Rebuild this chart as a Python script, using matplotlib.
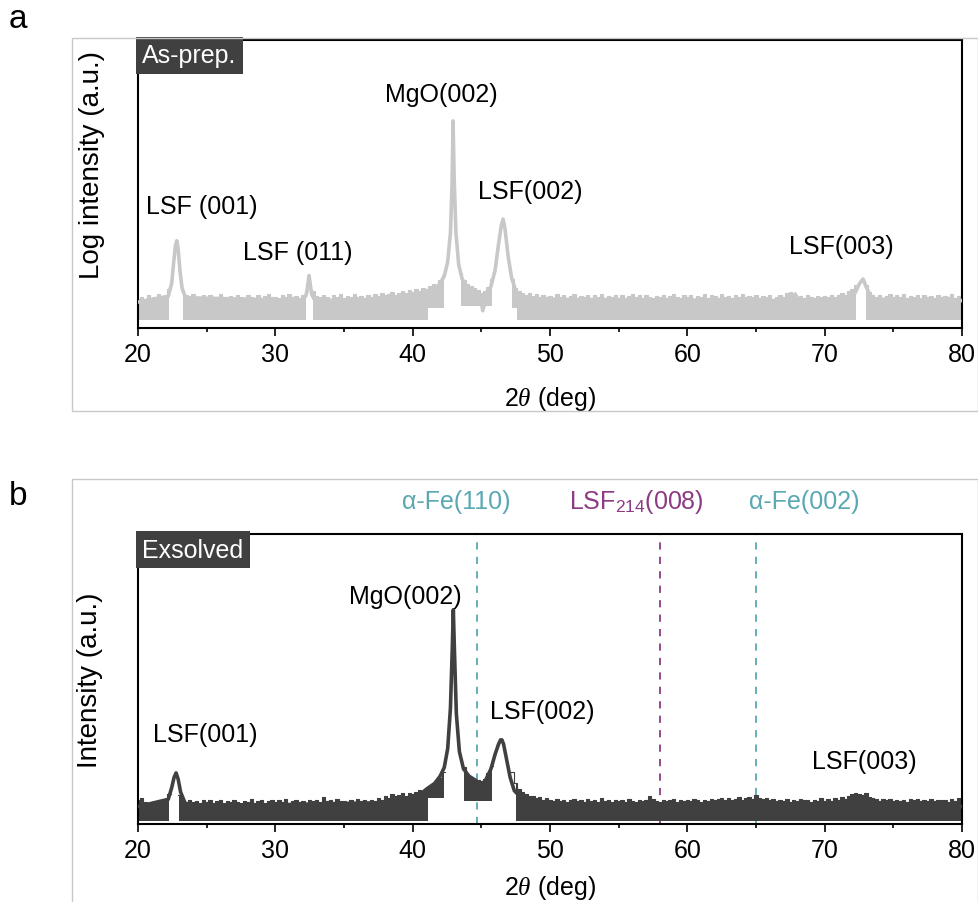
import numpy as np
import matplotlib
matplotlib.use('Agg')
import matplotlib.pyplot as plt
from matplotlib.patches import Rectangle
from matplotlib.transforms import blended_transform_factory

plt.rcParams['font.family'] = ['Liberation Sans', 'DejaVu Sans']
plt.rcParams['mathtext.fontset'] = 'custom'
plt.rcParams['mathtext.rm'] = 'Liberation Sans'
plt.rcParams['mathtext.it'] = 'Liberation Serif:italic'

# ---- data (intensity in arbitrary units, 0-100 = axis height) ----
grid_start, grid_step = 20.0, 0.25   # 2theta grid of the noisy background band

# panel a: upper edge of the noisy background (nan = no band, peak drawn by trace)
band_top_a = [
    10.2, 10.8, 10.0, 11.5, 10.4, 10.9, 11.8, 10.6, 11.4, 13.5, np.nan, np.nan, np.nan, 13.0, 11.6, 10.3, 11.7, 10.5, 10.9, 11.6,
    10.1, 11.3, 10.6, 10.9, 11.7, 10.2, 10.8, 11.2, 10.4, 11.5, 10.7, 10.3, 11.6, 10.9, 10.5, 11.3, 10.1, 11.0, 11.8, 10.6,
    10.9, 10.3, 11.4, 10.8, 11.9, 10.7, 11.1, 10.4, 11.6, 13.0, np.nan, 12.8, 11.2, 10.6, 11.5, 10.8, 10.2, 11.3, 10.9, 11.7,
    10.5, 11.2, 10.8, 11.8, 10.6, 11.0, 10.3, 11.5, 10.9, 11.9, 11.1, 12.2, 11.4, 11.8, 12.6, 11.6, 12.3, 12.9, 12.1, 13.1,
    12.4, 13.5, 12.8, 14.0, 13.4, 14.6, 15.2, 14.8, 16.5, 18.5, np.nan, np.nan, np.nan, np.nan, 19.0, 16.5, 15.2, 14.5, 13.8, 13.2,
    12.0, 13.0, 14.2, 17.0, np.nan, np.nan, np.nan, np.nan, np.nan, 17.0, 14.0, 12.8, 12.0, 11.4, 12.2, 11.0, 11.7, 10.8, 11.5, 10.6,
    11.2, 10.4, 11.8, 10.9, 11.4, 10.3, 11.1, 11.7, 10.5, 11.0, 10.7, 11.6, 10.2, 11.3, 10.8, 11.9, 10.5, 11.2, 10.9, 11.6,
    10.4, 11.5, 10.1, 11.0, 11.8, 10.6, 11.3, 10.2, 11.6, 10.9, 10.4, 11.2, 10.7, 11.5, 10.3, 11.0, 11.7, 10.8, 10.5, 11.4,
    10.9, 11.6, 10.2, 11.1, 10.6, 11.8, 10.4, 11.3, 11.0, 10.5, 11.7, 10.8, 11.2, 10.3, 11.5, 10.9, 11.9, 10.6, 11.2, 10.7,
    11.4, 10.5, 11.0, 10.8, 11.6, 10.1, 10.9, 11.5, 10.7, 12.0, 12.4, 11.8, 10.6, 11.0, 10.4, 11.3, 10.8, 10.5, 11.2, 10.9,
    11.0, 10.6, 11.6, 10.9, 11.3, 12.0, 11.6, 12.8, 13.5, 15.0, np.nan, np.nan, 15.0, 12.5, 11.5, 10.8, 11.6, 10.4, 11.2, 11.7,
    10.6, 11.3, 10.9, 11.8, 10.5, 11.1, 10.7, 11.5, 10.2, 11.4, 10.8, 11.0, 10.3, 11.6, 10.9, 11.2, 10.6, 11.7, 10.4, 11.1,
    10.8,
]
floor_a = 2.6
raised_floor_a = [(41.25, 42.4, 7.0), (43.4, 45.8, 7.5), (47.2, 47.6, 7.0)]

# panel a: peak profiles
trace_a_x = [20.0, 22.2, 22.45, 22.6, 22.72, 22.82, 22.92, 23.05, 23.2, 23.45,
             32.0, 32.25, 32.38, 32.45, 32.53, 32.65, 32.9,
             40.0, 41.0, 41.6, 42.0, 42.3, 42.55, 42.75, 42.87, 42.94, 43.02, 43.15, 43.35, 43.6, 44.0, 44.5,
             45.0, 45.1, 45.3, 45.7, 46.0, 46.25, 46.45, 46.58, 46.72, 46.95, 47.2, 47.5, 48.0,
             67.6, 67.85, 68.1, 72.0, 72.3, 72.55, 72.8, 73.0, 73.3, 73.6, 80.0]
trace_a_y = [9.0, 11.0, 15.5, 23.0, 28.5, 30.3, 27.5, 20.0, 14.0, 10.5,
             9.5, 11.5, 15.5, 18.2, 15.5, 11.5, 9.5,
             10.0, 11.5, 13.5, 15.5, 18.0, 23.0, 33.0, 50.0, 71.9, 52.0, 33.0, 22.0, 17.0, 14.0, 11.5,
             9.0, 6.0, 9.5, 14.5, 20.0, 29.0, 35.5, 37.8, 34.5, 25.0, 17.5, 13.0, 10.0,
             9.5, 11.8, 9.5, 10.0, 13.0, 15.5, 17.0, 14.5, 11.5, 10.0, 9.5]

# panel b
band_top_b = [
    8.4, 9.0, 7.6, 7.0, 6.8, 7.4, 7.2, 8.0, 8.6, 10.5, np.nan, np.nan, 10.0, 8.4, 7.7, 8.2, 7.5, 7.9, 7.3, 8.1,
    7.6, 8.2, 7.4, 7.8, 8.3, 7.2, 7.9, 7.5, 8.4, 7.7, 7.3, 8.0, 7.6, 8.5, 7.4, 7.8, 8.2, 7.1, 7.9, 8.3,
    7.5, 8.1, 7.7, 8.6, 7.4, 7.9, 8.3, 7.6, 8.0, 7.3, 8.4, 7.8, 8.1, 7.5, 9.2, 7.9, 8.2, 7.6, 8.5, 7.8,
    8.0, 7.4, 8.3, 7.7, 8.6, 7.9, 8.1, 7.5, 8.4, 8.0, 8.8, 8.2, 9.5, 9.0, 10.2, 9.6, 10.0, 10.6, 9.8, 10.8,
    10.4, 11.2, 11.8, 11.0, 12.5, 13.0, 13.8, 14.5, 16.0, 18.0, np.nan, np.nan, np.nan, np.nan, np.nan, 19.5, 17.0, 16.0, 15.5, 15.0,
    14.8, 15.5, 17.5, 20.0, np.nan, np.nan, np.nan, np.nan, np.nan, 18.0, 14.0, 12.0, 11.0, 10.4, 9.8, 9.5, 8.8, 9.2, 8.4, 8.9,
    8.3, 7.9, 8.6, 8.0, 8.4, 7.6, 8.2, 8.7, 7.8, 8.1, 7.5, 8.5, 7.9, 8.3, 7.7, 8.8, 8.0, 8.2, 7.6, 8.4,
    7.8, 8.3, 7.5, 8.6, 8.0, 7.7, 8.4, 7.9, 8.2, 9.6, 8.5, 8.0, 7.6, 8.3, 7.8, 8.1, 8.5, 7.7, 8.2, 7.9,
    8.4, 7.8, 8.6, 8.1, 7.5, 8.3, 7.9, 8.7, 8.2, 8.5, 9.0, 8.4, 8.8, 8.1, 8.6, 9.2, 8.3, 8.9, 9.4, 8.6,
    10.0, 9.0, 8.7, 8.9, 8.3, 8.6, 7.9, 8.4, 8.0, 8.5, 7.7, 8.3, 7.8, 8.6, 8.1, 8.4, 7.5, 8.2, 7.9, 8.8,
    8.0, 8.5, 7.8, 8.9, 8.4, 9.2, 8.7, 9.6, 10.2, 10.8, 10.4, 10.0, 10.6, 9.4, 8.9, 8.5, 8.0, 8.7, 8.2, 8.6,
    7.9, 8.4, 8.0, 8.3, 7.6, 8.5, 8.1, 8.6, 7.8, 8.2, 8.0, 8.7, 7.9, 8.4, 8.1, 8.3, 7.7, 8.5, 8.0, 8.9,
    8.0,
]
floor_b = 1.1
raised_floor_b = [(41.1, 42.4, 9.0), (43.4, 45.8, 7.8), (45.8, 47.3, np.nan)]

trace_b_x = [20.0, 22.2, 22.45, 22.62, 22.77, 22.92, 23.1, 23.4, 23.7, 39.5,
             40.5, 41.0, 41.6, 42.0, 42.3, 42.55, 42.75, 42.88, 42.96, 43.04, 43.18, 43.4, 43.7, 44.1, 44.6,
             45.0, 45.3, 45.7, 46.0, 46.25, 46.4, 46.5, 46.62, 46.85, 47.1, 47.4, 48.0, 48.5, 80.0]
trace_b_y = [6.0, 8.5, 12.5, 16.0, 17.6, 15.5, 11.0, 7.5, 6.0, 7.5,
             10.0, 12.0, 14.0, 16.5, 19.5, 26.0, 40.0, 60.0, 73.9, 60.0, 38.0, 25.0, 19.0, 16.5, 15.0,
             13.5, 15.0, 19.0, 24.0, 27.5, 29.0, 29.0, 27.5, 22.0, 16.0, 11.5, 8.5, 6.5, 6.0]

# reference lines in panel b
ref_pos = [44.67, 58.0, 65.0]
ref_labels = [r'α-Fe(110)', r'LSF$_{214}$(008)', r'α-Fe(002)']
ref_label_x = [43.2, 56.3, 68.5]
ref_colors = ['#5aa8b2', '#8c3b84', '#5aa8b2']

peak_labels_a = ['LSF (001)', 'LSF (011)', 'MgO(002)', 'LSF(002)', 'LSF(003)']
peak_label_a_x = [24.66, 31.65, 42.07, 48.55, 71.2]
peak_label_a_y = [42.4, 26.4, 81.3, 47.6, 28.5]

peak_labels_b = ['LSF(001)', 'MgO(002)', 'LSF(002)', 'LSF(003)']
peak_label_b_x = [24.88, 39.45, 49.4, 72.9]
peak_label_b_y = [31.0, 78.6, 39.0, 21.7]

FS = 18


def draw_panel(ax, band_top, floor, raised, tx, ty, color, tag, ylabel):
    x = grid_start + grid_step * np.arange(len(band_top))
    top = np.array(band_top, dtype=float)
    low = np.full_like(x, floor)
    for a, b, v in raised:
        low[(x >= a) & (x <= b)] = v
    ax.fill_between(x, low, top, step='mid', color=color, lw=0, zorder=2)
    ax.plot(x, top, drawstyle='steps-mid', color=color, lw=0.8, zorder=2)
    ax.plot(tx, ty, color=color, lw=2.6, solid_joinstyle='round', zorder=3)

    ax.set_xlim(20, 80)
    ax.set_ylim(0, 100)
    ax.set_yticks([])
    ax.set_xticks(np.arange(20, 81, 10))
    ax.set_xticks(np.arange(25, 80, 10), minor=True)
    ax.tick_params(axis='x', which='major', direction='out', length=6, width=1.2, labelsize=FS, pad=4)
    ax.tick_params(axis='x', which='minor', direction='out', length=3, width=1.2)
    for s in ax.spines.values():
        s.set_linewidth(1.5)
    ax.set_xlabel(r'2$\it{\theta}$ (deg)', fontsize=FS)
    ax.set_ylabel(ylabel, fontsize=20)
    ax.text(0.005, 0.988, tag, transform=ax.transAxes, ha='left', va='top', fontsize=FS,
            color='white', zorder=5,
            bbox=dict(facecolor='#404040', edgecolor='none', boxstyle='square,pad=0.25'))


fig = plt.figure(figsize=(9.79, 9.03), dpi=100)

# light grey frames around the panels
fig.patches.append(Rectangle((72 / 979, 1 - 412 / 903), 906 / 979, 373 / 903, transform=fig.transFigure,
                             fill=False, edgecolor='#c8c8c8', lw=1.0))
fig.patches.append(Rectangle((72 / 979, -0.01), 906 / 979, (903 - 480) / 903 + 0.01, transform=fig.transFigure,
                             fill=False, edgecolor='#c8c8c8', lw=1.0))

ax1 = fig.add_axes([0.141, 0.6357, 0.8416, 0.3189])
ax2 = fig.add_axes([0.141, 0.0864, 0.8416, 0.3211])

draw_panel(ax1, band_top_a, floor_a, raised_floor_a, trace_a_x, trace_a_y, '#c8c8c8', 'As-prep.',
           'Log intensity (a.u.)')
draw_panel(ax2, band_top_b, floor_b, raised_floor_b, trace_b_x, trace_b_y, '#404040', 'Exsolved',
           'Intensity (a.u.)')

ax1.yaxis.set_label_coords(-0.040, 0.57)
ax2.yaxis.set_label_coords(-0.042, 0.5)
ax1.xaxis.set_label_coords(0.5, -0.195)
ax2.xaxis.set_label_coords(0.5, -0.17)

for lab, x, y in zip(peak_labels_a, peak_label_a_x, peak_label_a_y):
    ax1.text(x, y, lab, ha='center', va='center', fontsize=FS, zorder=4)
for lab, x, y in zip(peak_labels_b, peak_label_b_x, peak_label_b_y):
    ax2.text(x, y, lab, ha='center', va='center', fontsize=FS, zorder=4)

trans = blended_transform_factory(ax2.transData, ax2.transAxes)
for pos, lab, lx, c in zip(ref_pos, ref_labels, ref_label_x, ref_colors):
    ax2.axvline(pos, color=c, lw=1.3, ls=(0, (4, 4)), zorder=1)
    ax2.text(lx, 1.115, lab, transform=trans, ha='center', va='center', fontsize=FS, color=c,
             clip_on=False)

fig.text(18 / 979, 1 - 20 / 903, 'a', fontsize=24, ha='center', va='center')
fig.text(18 / 979, 1 - 497 / 903, 'b', fontsize=24, ha='center', va='center')

fig.savefig('out.png', dpi=100)
